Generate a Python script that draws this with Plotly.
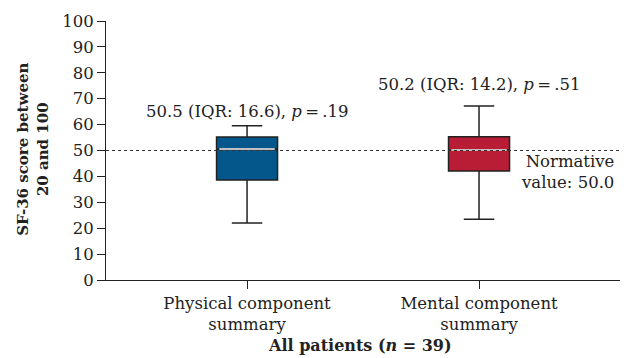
import plotly.graph_objects as go

categories = ["Physical component<br>summary", "Mental component<br>summary"]
q1 = [38.6, 42.1]
median = [50.6, 50.2]
q3 = [55.2, 55.3]
lower_fence = [22.0, 23.5]
upper_fence = [59.6, 67.2]
colors = ["#03578A", "#B91D35"]
labels = ["50.5 (IQR: 16.6), <i>p</i>\u2009=\u2009.19", "50.2 (IQR: 14.2), <i>p</i>\u2009=\u2009.51"]
label_y = [65.0, 75.3]
normative = 50.0
y_ticks = list(range(0, 101, 10))

FONT = "DejaVu Serif"
box_w = 0.263

fig = go.Figure()
for i in range(len(categories)):
    fig.add_trace(go.Box(
        x=[i], q1=[q1[i]], median=[median[i]], q3=[q3[i]],
        lowerfence=[lower_fence[i]], upperfence=[upper_fence[i]],
        fillcolor=colors[i], line=dict(color="#222222", width=1.5),
        width=box_w, whiskerwidth=0.5, boxpoints=False,
        hoverinfo="skip", showlegend=False,
    ))
    fig.add_trace(go.Scatter(
        x=[i - box_w / 2 + 0.012, i + box_w / 2 - 0.012], y=[median[i], median[i]],
        mode="lines", line=dict(color="#F2F2F2", width=1.5),
        hoverinfo="skip", showlegend=False,
    ))
    fig.add_annotation(x=i, y=label_y[i], xref="x", yref="y", text=labels[i],
                       showarrow=False, font=dict(family=FONT, size=16.5, color="#222"))

fig.add_shape(type="line", xref="paper", yref="y", x0=0, x1=1, y0=normative, y1=normative,
              line=dict(color="#333", width=1, dash="dot"), layer="above")
fig.add_annotation(x=0.99, y=normative - 8.3, xref="paper", yref="y",
                   text="Normative<br>value: %.1f" % normative, showarrow=False,
                   xanchor="right", align="right",
                   font=dict(family=FONT, size=16.5, color="#222"))

fig.add_annotation(x=-0.1405, y=0.505, xref="paper", yref="paper", textangle=-90,
                   text="<b>SF-36 score between<br>20 and 100</b>", showarrow=False,
                   xanchor="center", yanchor="middle",
                   font=dict(family=FONT, size=15, color="#222"))
fig.add_annotation(x=0.493, y=-0.253, xref="paper", yref="paper",
                   text="<b>All patients (<i>n</i> = 39)</b>", showarrow=False,
                   xanchor="center", yanchor="middle",
                   font=dict(family=FONT, size=16, color="#222"))

# page body has an 8px default margin, so the figure is 8px smaller than the window
fig.update_layout(
    width=620, height=350,
    margin=dict(l=98, r=7, t=13, b=78),
    plot_bgcolor="white", paper_bgcolor="white",
    font=dict(family=FONT, size=16.5, color="#222"),
    xaxis=dict(range=[-0.608, 1.612], tickvals=[0, 1], ticktext=categories,
               ticks="outside", ticklen=8, tickcolor="#222", showline=True,
               linecolor="#222", linewidth=1, showgrid=False, zeroline=False,
               automargin=False, tickfont=dict(family=FONT, size=16.5)),
    yaxis=dict(range=[0, 100], tickvals=y_ticks, ticks="outside", ticklen=8,
               tickcolor="#222", showline=True, linecolor="#222", linewidth=1,
               showgrid=False, zeroline=False, automargin=False,
               tickfont=dict(family=FONT, size=16.5)),
)

fig.write_html("out.html")
